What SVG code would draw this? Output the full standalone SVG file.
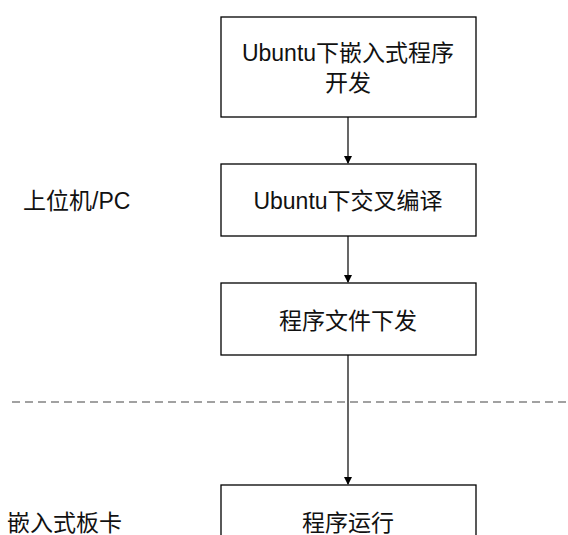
<svg xmlns="http://www.w3.org/2000/svg" width="568" height="535" viewBox="0 0 568 535">
<style>
.box{fill:#fff;stroke:#000;stroke-width:1.3}
.t{font-family:"Liberation Sans","Noto Sans CJK SC",sans-serif;font-size:23px;fill:#111}
.c{text-anchor:middle}
.ln{stroke:#000;stroke-width:1.2;fill:none}
</style>
<defs>
<marker id="ah" markerWidth="8" markerHeight="9" refX="7" refY="4" orient="auto" markerUnits="userSpaceOnUse">
<path d="M0,0 L8,4 L0,8 Z" fill="#000"/>
</marker>
</defs>
<rect width="568" height="535" fill="#fff"/>
<line x1="12" y1="402" x2="568" y2="402" stroke="#444" stroke-width="1.2" stroke-dasharray="8,5"/>
<g id="connectors">
<line class="ln" x1="348" y1="117" x2="348" y2="163" marker-end="url(#ah)"/>
<line class="ln" x1="348" y1="236" x2="348" y2="282" marker-end="url(#ah)"/>
<line class="ln" x1="348" y1="355" x2="348" y2="484" marker-end="url(#ah)"/>
</g>
<g id="n1">
<rect class="box" x="221" y="17" width="255" height="100"/>
<text class="t c" x="348" y="61">Ubuntu下嵌入式程序</text>
<text class="t c" x="348" y="91">开发</text>
</g>
<g id="n2">
<rect class="box" x="221" y="164" width="255" height="72"/>
<text class="t c" x="348" y="209">Ubuntu下交叉编译</text>
</g>
<g id="n3">
<rect class="box" x="221" y="283" width="255" height="72"/>
<text class="t c" x="348" y="329">程序文件下发</text>
</g>
<g id="n4">
<rect class="box" x="221" y="485" width="255" height="72"/>
<text class="t c" x="348" y="531">程序运行</text>
</g>
<g id="labels">
<text class="t" x="23" y="209">上位机/PC</text>
<text class="t" x="7" y="531">嵌入式板卡</text>
</g>
</svg>
